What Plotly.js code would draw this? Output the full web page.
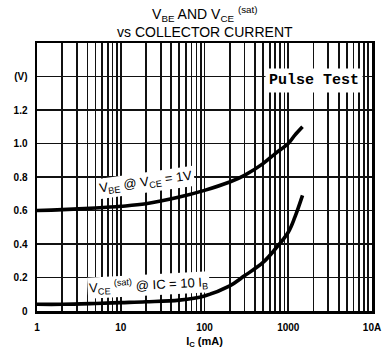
<!DOCTYPE html>
<html><head><meta charset="utf-8">
<script src="https://cdn.plot.ly/plotly-3.0.1.min.js"></script>
<style>html,body{margin:0;padding:0;background:#fff}#c{width:390px;height:361px}</style>
</head><body><div id="c"></div>
<script>
const currentMA = [1, 2, 5, 10, 20, 50, 100, 200, 300, 500, 700, 1000, 1200, 1480];
const vbe = [0.60, 0.605, 0.615, 0.625, 0.64, 0.68, 0.72, 0.77, 0.81, 0.88, 0.94, 1.00, 1.05, 1.10];
const vceSat = [0.04, 0.04, 0.045, 0.05, 0.055, 0.065, 0.09, 0.15, 0.21, 0.29, 0.37, 0.47, 0.56, 0.69];
const xDecades = [1, 10, 100, 1000, 10000];
const xDecadeLabels = ["1", "10", "100", "1000", "10A"];
const yTicks = [0, 0.2, 0.4, 0.6, 0.8, 1.0, 1.2, 1.4, 1.6];
const yTickLabels = ["0", "0.2", "0.4", "0.6", "0.8", "1.0", "1.2", "(V)", ""];

const xTickVals = [], xTickText = [];
for (let d = 0; d < 4; d++) {
  for (let m = 1; m <= 9; m++) {
    const v = m * Math.pow(10, d);
    xTickVals.push(v);
    const i = xDecades.indexOf(v);
    xTickText.push(i >= 0 ? xDecadeLabels[i] : "");
  }
}
xTickVals.push(xDecades[4]); xTickText.push(xDecadeLabels[4]);

const lineStyle = {color: '#000', width: 3.6, shape: 'spline'};
const data = [
  {x: currentMA, y: vbe, mode: 'lines', line: lineStyle, hoverinfo: 'skip'},
  {x: currentMA, y: vceSat, mode: 'lines', line: lineStyle, hoverinfo: 'skip'}
];
const sans = 'Liberation Sans, Arial, sans-serif';
const tf = {family: sans, size: 10, color: '#000', weight: 'bold'};
const layout = {
  width: 390, height: 361,
  margin: {l: 37, r: 18, t: 43, b: 50},
  paper_bgcolor: '#fff', plot_bgcolor: '#fff',
  showlegend: false,
  xaxis: {
    type: 'log', range: [0, 4],
    tickmode: 'array', tickvals: xTickVals, ticktext: xTickText,
    showgrid: true, gridcolor: '#111', gridwidth: 1.7,
    ticks: '', tickfont: tf, ticklabelstandoff: 5,
    showline: true, linecolor: '#000', linewidth: 2.5, mirror: true,
    zeroline: false,
    title: {text: 'I<sub>C</sub> (mA)', font: {family: sans, size: 11, color: '#000', weight: 'bold'}, standoff: 6}
  },
  yaxis: {
    range: [0, 1.6],
    tickmode: 'array', tickvals: yTicks, ticktext: yTickLabels,
    showgrid: true, gridcolor: '#111', gridwidth: 1.7,
    ticks: '', tickfont: tf, ticklabelstandoff: 5,
    showline: true, linecolor: '#000', linewidth: 2.5, mirror: true,
    zeroline: false
  },
  annotations: [
    {xref: 'paper', yref: 'paper', x: 0.5, y: 1, yshift: 1, yanchor: 'bottom', showarrow: false,
     text: 'V<sub>BE</sub> AND V<sub>CE</sub> <sup>(sat)</sup><br>vs COLLECTOR CURRENT',
     font: {family: sans, size: 14, color: '#000'}},
    {xref: 'x', yref: 'y', x: 1.30, y: 0.765, showarrow: false, textangle: -8,
     text: 'V<sub>BE</sub> @ V<sub>CE</sub> = 1V', bgcolor: '#fff',
     font: {family: sans, size: 13, color: '#000'}},
    {xref: 'x', yref: 'y', x: 1.337, y: 0.155, showarrow: false, textangle: -3,
     text: 'V<sub>CE</sub> <sup>(sat)</sup> @ IC = 10 I<sub>B</sub>', bgcolor: '#fff',
     font: {family: sans, size: 13, color: '#000'}},
    {xref: 'x', yref: 'y', x: 3.307, y: 1.379, showarrow: false,
     text: '<b>Pulse Test</b>', bgcolor: '#fff', borderpad: 3,
     font: {family: 'Liberation Mono, Courier New, monospace', size: 15, color: '#000'}}
  ]
};
Plotly.newPlot('c', data, layout, {staticPlot: true, displayModeBar: false});
</script></body></html>
